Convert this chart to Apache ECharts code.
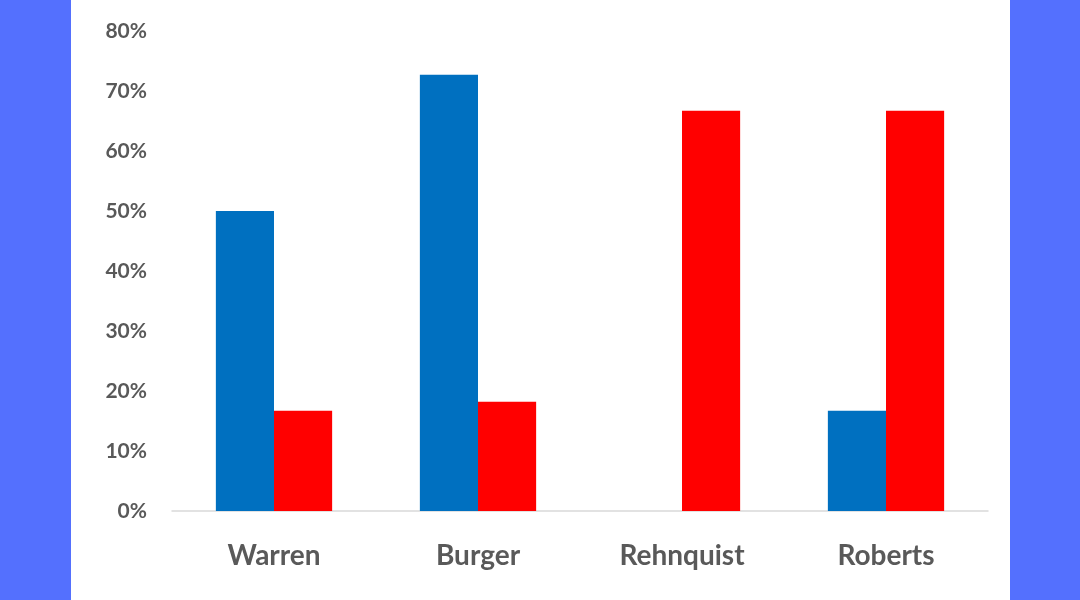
<!DOCTYPE html>
<html>
<head>
<meta charset="utf-8">
<script src="https://cdn.jsdelivr.net/npm/echarts@6/dist/echarts.min.js"></script>
<style>
html,body{margin:0;padding:0;background:#fff;}
#c{width:1080px;height:600px;}
</style>
</head>
<body>
<div id="c"></div>
<script>
const categories = ['Warren', 'Burger', 'Rehnquist', 'Roberts'];
const blueValues = [50, 72.7, 0, 16.7];
const redValues = [16.7, 18.2, 66.7, 66.7];
const yTicks = [0, 10, 20, 30, 40, 50, 60, 70, 80];

const chart = echarts.init(document.getElementById('c'));
chart.setOption({
  backgroundColor: '#ffffff',
  animation: false,
  graphic: [
    { type: 'rect', left: 0, top: 0, shape: { width: 71, height: 600 }, style: { fill: '#5470FE' }, z: -1 },
    { type: 'rect', left: 1010, top: 0, shape: { width: 70, height: 600 }, style: { fill: '#5470FE' }, z: -1 }
  ],
  grid: { left: 172, right: 92, top: 31, bottom: 89, containLabel: false },
  xAxis: {
    type: 'category',
    data: categories,
    axisTick: { show: false },
    axisLine: { lineStyle: { color: '#d9d9d9', width: 1.5 } },
    axisLabel: { color: '#595959', fontSize: 28, fontWeight: 'bold', fontFamily: 'Lato', margin: 31 }
  },
  yAxis: {
    type: 'value',
    min: yTicks[0],
    max: yTicks[yTicks.length - 1],
    interval: 10,
    splitLine: { show: false },
    axisLine: { show: false },
    axisTick: { show: false },
    axisLabel: { color: '#595959', fontSize: 21, fontWeight: 'bold', fontFamily: 'Lato', margin: 25, formatter: v => v + '%' }
  },
  series: [
    { type: 'bar', data: blueValues, itemStyle: { color: '#0070C0' }, barGap: '0%', barCategoryGap: '43%' },
    { type: 'bar', data: redValues, itemStyle: { color: '#FF0000' }, barGap: '0%', barCategoryGap: '43%' }
  ]
});
</script>
</body>
</html>
